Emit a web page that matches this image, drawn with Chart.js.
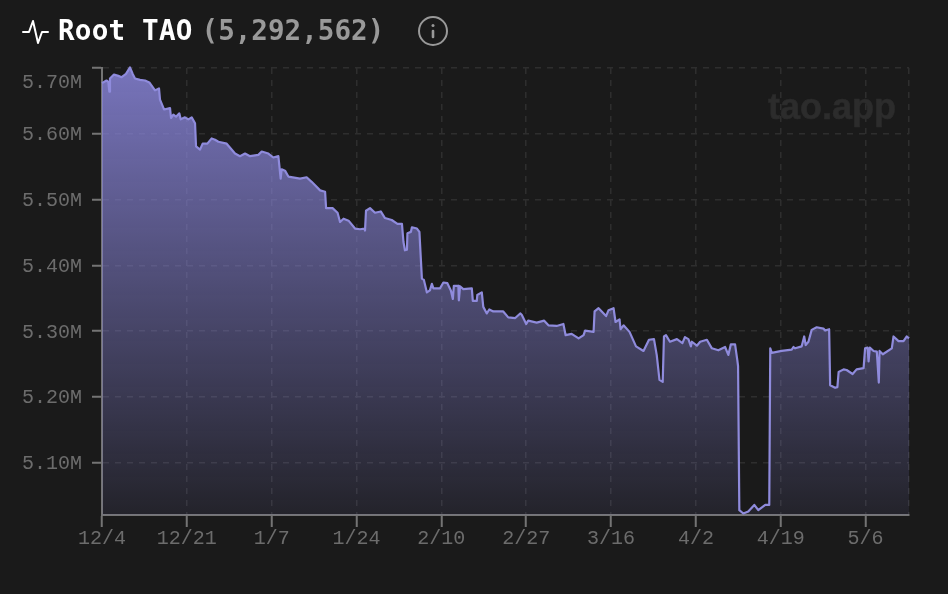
<!DOCTYPE html>
<html>
<head>
<meta charset="utf-8">
<title>Root TAO</title>
<script src="https://cdn.jsdelivr.net/npm/chart.js@4"></script>
<style>
  html, body { margin: 0; padding: 0; width: 948px; height: 594px; background: #1a1a1a; overflow: hidden; }
  #chart { position: absolute; left: 0; top: 0; }
  .title { position: absolute; left: 58px; top: 13px; font: bold 27.6px "DejaVu Sans Mono", monospace; letter-spacing: 0.2px; line-height: 36px; color: #fff; white-space: pre; }
  .title span { color: #999; margin-left: 9px; letter-spacing: 0; }
  .icon { position: absolute; }
  .mark { position: absolute; left: 768px; top: 86px; font: bold 36px "Liberation Sans", sans-serif; line-height: 42px; color: #2c2c2c; -webkit-text-stroke: 0.6px #2c2c2c; }
</style>
</head>
<body>
<canvas id="chart" width="948" height="594"></canvas>
<svg class="icon" style="left:22px;top:19px" width="27" height="26" viewBox="0 0 27 26" fill="none" stroke="#fff" stroke-width="2" stroke-linecap="round" stroke-linejoin="round"><path d="M1 13h6l4-11 5 22 4-11h6"/></svg>
<div class="title">Root TAO<span>(5,292,562)</span></div>
<svg class="icon" style="left:418px;top:16px" width="30" height="30" viewBox="0 0 30 30" fill="none" stroke="#999" stroke-width="2" stroke-linecap="round"><circle cx="15" cy="15" r="14"/><path d="M15 15v6" stroke-width="2.6"/><path d="M15 9.5v.1" stroke-width="3"/></svg>
<div class="mark">tao.app</div>
<script>
const xTickDays = [0, 17, 34, 51, 68, 85, 102, 119, 136, 153];
const xTickLabels = ['12/4', '12/21', '1/7', '1/24', '2/10', '2/27', '3/16', '4/2', '4/19', '5/6'];
const yTickValues = [5.7, 5.6, 5.5, 5.4, 5.3, 5.2, 5.1];
const lastDay = 161.7;

// days since 12/4
const days = [
  0, 0.9, 1.27, 1.47, 1.6, 2.4, 3.27, 3.94, 4.81, 5.61, 6.15, 6.61, 7.62, 8.62, 9.48, 10.62, 11.42, 11.62, 12.43, 13.63,
  13.83, 14.3, 14.83, 15.5, 15.77, 16.63, 17.3, 17.97, 18.64, 18.84, 19.64, 20.17, 21.11, 21.98, 22.65, 23.31, 24.98, 26.65, 27.65, 28.66,
  29.66, 31.33, 32, 33.33, 34.33, 35.34, 35.8, 36, 36.67, 37.34, 39.68, 41, 42, 43.7, 44.7, 44.9, 46.2, 47.2, 47.7, 48.4,
  49.4, 50.7, 51.7, 52.6, 52.7, 52.9, 53.7, 54.7, 55.85, 56.7, 58.05, 59.2, 60.1, 60.4, 60.7, 61.1, 61.2, 61.9, 62.1, 63.1,
  63.6, 63.9, 64.1, 64.5, 65.1, 65.7, 66.1, 66.4, 67.7, 68.4, 69.2, 69.9, 70.3, 70.5, 71.4, 71.5, 71.75, 72.4, 74.1, 74.3,
  75.1, 75.2, 76.1, 76.4, 77.1, 77.6, 78.4, 80.4, 81.4, 82.8, 83.8, 84.1, 85, 85.4, 87.1, 88.6, 89.45, 91.1, 92.45, 92.9,
  94.1, 95.5, 96.5, 96.8, 98.5, 98.7, 99.5, 101, 101.5, 102.5, 102.9, 103.7, 103.9, 104.5, 105.7, 107, 108.5, 109.6, 110.6, 111.15,
  111.7, 112.35, 112.6, 113, 113.8, 115.2, 116.3, 116.8, 117.5, 118, 118.2, 119.2, 119.85, 121.2, 122.2, 123.5, 124.85, 125.5, 126, 126.85,
  127.3, 127.45, 127.7, 128.5, 129.5, 130.7, 131.5, 132.9, 133.7, 133.9, 134.2, 136.2, 138.2, 138.55, 138.9, 140.2, 140.7, 141, 141.55, 142.2,
  143.2, 144.55, 144.9, 145.7, 145.9, 146.9, 147.35, 147.6, 148.6, 149.2, 150.4, 151.2, 152.6, 152.9, 153.4, 153.6, 153.85, 154.6, 155.25, 155.65,
  155.8, 156.45, 158.25, 158.6, 159.6, 160.6, 161.25, 161.7
];

// root TAO in millions
const rootTao = [
  5.677, 5.681, 5.679, 5.664, 5.684, 5.69, 5.688, 5.686, 5.691, 5.701, 5.691, 5.684, 5.682, 5.681, 5.678, 5.666, 5.669, 5.652, 5.637, 5.639,
  5.624, 5.629, 5.626, 5.631, 5.622, 5.625, 5.622, 5.625, 5.616, 5.581, 5.576, 5.585, 5.585, 5.593, 5.591, 5.588, 5.585, 5.57, 5.566, 5.57,
  5.566, 5.568, 5.573, 5.57, 5.564, 5.566, 5.532, 5.546, 5.544, 5.535, 5.532, 5.534, 5.527, 5.514, 5.512, 5.487, 5.487, 5.48, 5.466, 5.471,
  5.468, 5.456, 5.455, 5.456, 5.453, 5.483, 5.487, 5.48, 5.482, 5.472, 5.469, 5.463, 5.463, 5.436, 5.423, 5.424, 5.449, 5.451, 5.458, 5.456,
  5.451, 5.408, 5.38, 5.378, 5.359, 5.362, 5.372, 5.365, 5.365, 5.374, 5.373, 5.362, 5.349, 5.369, 5.369, 5.347, 5.368, 5.364, 5.365, 5.346,
  5.346, 5.355, 5.359, 5.337, 5.327, 5.333, 5.33, 5.33, 5.321, 5.32, 5.327, 5.325, 5.311, 5.316, 5.313, 5.316, 5.309, 5.308, 5.311, 5.294,
  5.296, 5.289, 5.294, 5.301, 5.299, 5.33, 5.335, 5.323, 5.332, 5.335, 5.314, 5.318, 5.303, 5.309, 5.299, 5.277, 5.27, 5.287, 5.288, 5.264,
  5.226, 5.223, 5.292, 5.294, 5.284, 5.288, 5.282, 5.291, 5.288, 5.277, 5.284, 5.278, 5.284, 5.287, 5.274, 5.271, 5.276, 5.264, 5.28, 5.28,
  5.256, 5.247, 5.028, 5.023, 5.026, 5.036, 5.028, 5.036, 5.036, 5.274, 5.267, 5.27, 5.272, 5.276, 5.274, 5.277, 5.292, 5.279, 5.284, 5.302,
  5.306, 5.304, 5.301, 5.303, 5.218, 5.214, 5.215, 5.238, 5.242, 5.241, 5.235, 5.242, 5.244, 5.274, 5.275, 5.254, 5.275, 5.27, 5.269, 5.222,
  5.27, 5.265, 5.274, 5.292, 5.285, 5.285, 5.292, 5.289
];

const axisGrey = '#747474';
const gridGrey = '#2e2e2e';
const labelGrey = '#6c6c6c';

function fillGradient(context) {
  const { ctx, chartArea } = context.chart;
  if (!chartArea) return 'transparent';
  const g = ctx.createLinearGradient(0, chartArea.top, 0, chartArea.bottom);
  g.addColorStop(0, 'rgba(136, 132, 216, 0.85)');
  g.addColorStop(1, 'rgba(136, 132, 216, 0.09)');
  return g;
}

new Chart(document.getElementById('chart'), {
  type: 'line',
  data: {
    datasets: [{
      data: days.map((d, i) => ({ x: d, y: rootTao[i] })),
      borderColor: '#8f8bdc',
      borderWidth: 2.2,
      borderJoinStyle: 'round',
      backgroundColor: fillGradient,
      fill: 'start',
      pointRadius: 0,
      tension: 0,
      clip: 4
    }]
  },
  options: {
    responsive: false,
    animation: false,
    layout: { padding: { left: 0, right: 39, top: 68, bottom: 0 } },
    plugins: { legend: { display: false }, tooltip: { enabled: false } },
    scales: {
      x: {
        type: 'linear',
        min: 0,
        max: lastDay,
        afterBuildTicks: scale => {
          scale.ticks = xTickDays.concat(lastDay).map(value => ({ value }));
        },
        afterFit: scale => { scale.height = 79; },
        ticks: {
          autoSkip: false,
          maxRotation: 0,
          padding: 0,
          color: labelGrey,
          font: { family: '"Liberation Mono", monospace', size: 20 },
          callback: value => {
            const i = xTickDays.indexOf(value);
            return i >= 0 ? xTickLabels[i] : '';
          }
        },
        grid: {
          color: gridGrey,
          lineWidth: 1.5,
          tickLength: 12,
          tickWidth: 2,
          tickColor: ctx => (ctx.tick && ctx.tick.value === lastDay ? 'transparent' : axisGrey),
          tickBorderDash: []
        },
        border: { color: axisGrey, width: 2, dash: [6, 6] }
      },
      y: {
        min: 5.0207,
        max: 5.7,
        afterBuildTicks: scale => {
          scale.ticks = yTickValues.map(value => ({ value }));
        },
        afterFit: scale => { scale.width = 102; },
        ticks: {
          autoSkip: false,
          padding: 10,
          labelOffset: 1,
          color: labelGrey,
          font: { family: '"Liberation Mono", monospace', size: 20, lineHeight: 1.4 },
          // the top label sits below its tick in the original
          callback: value => (value === 5.7 ? ['', value.toFixed(2) + 'M'] : value.toFixed(2) + 'M')
        },
        grid: {
          color: gridGrey,
          lineWidth: 1.5,
          tickLength: 10,
          tickWidth: 2,
          tickColor: axisGrey,
          tickBorderDash: []
        },
        border: { color: axisGrey, width: 2, dash: [6, 6] }
      }
    }
  }
});
</script>
</body>
</html>
